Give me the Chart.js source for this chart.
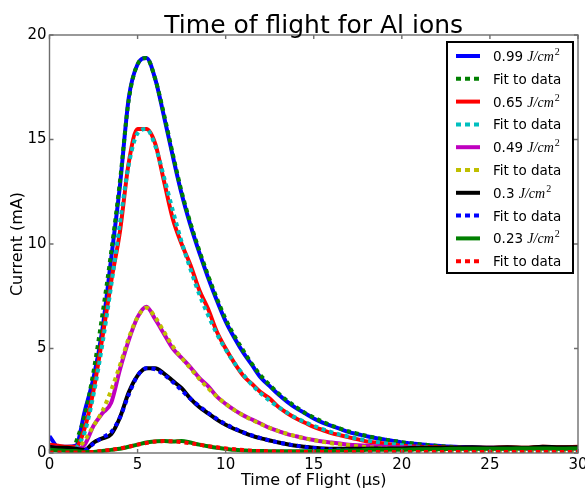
<!DOCTYPE html>
<html>
<head>
<meta charset="utf-8">
<script src="https://cdn.jsdelivr.net/npm/chart.js@4.4.0/dist/chart.umd.min.js"></script>
<style>
  html,body{margin:0;padding:0;background:#fff;}
</style>
</head>
<body>
<canvas id="tof" width="585" height="493"></canvas>
<script>
// ---------- DATA ----------
const TIME = [0,0.5,1,1.5,2,2.5,3,3.5,4,4.5,5,5.5,6,6.5,7,7.5,8,8.5,9,9.5,
  10,10.5,11,11.5,12,12.5,13,13.5,14,14.5,15,15.5,16,16.5,17,17.5,18,18.5,19,19.5,
  20,21,22,23,24,25,26,27,28,29,30];

const FLUENCE = ["0.99","0.65","0.49","0.3","0.23"];

const DATA_099 = [0.8,0.3,0.3,0.35,2.0,3.6,5.9,9.3,12.8,17.0,
  18.6,18.9,17.9,16.1,14.2,12.4,10.9,9.6,8.4,7.3,
  6.3,5.5,4.8,4.2,3.6,3.2,2.8,2.45,2.15,1.9,
  1.65,1.45,1.3,1.15,1.0,0.9,0.8,0.72,0.65,0.58,
  0.5,0.42,0.35,0.3,0.28,0.25,0.25,0.23,0.25,0.25,0.25];
const FIT_099 = [null,null,null,0.5,1.8,3.9,6.6,9.6,13.0,16.9,
  18.6,18.9,17.9,16.2,14.3,12.5,11.0,9.7,8.5,7.4,
  6.4,5.6,4.9,4.25,3.7,3.25,2.85,2.5,2.2,1.92,
  1.7,1.5,1.32,1.17,1.03,0.92,0.82,0.73,0.65,0.58,
  0.52,0.42,0.34,0.28,0.23,0.19,0.16,0.13,0.11,0.1,0.08];

const DATA_065 = [0.4,0.35,0.3,0.3,1.2,3.0,5.5,8.2,10.6,13.9,
  15.5,15.5,14.8,13.0,11.2,10.0,9.0,7.8,6.9,5.8,
  5.0,4.3,3.7,3.3,2.9,2.6,2.2,1.9,1.65,1.45,
  1.25,1.1,0.95,0.85,0.75,0.65,0.55,0.5,0.45,0.4,
  0.35,0.3,0.28,0.25,0.25,0.25,0.28,0.25,0.3,0.28,0.3];
const FIT_065 = [null,null,null,0.2,1.0,2.8,5.2,8.0,11.0,13.8,
  15.3,15.5,14.7,13.2,11.6,10.1,8.8,7.6,6.6,5.7,
  4.95,4.3,3.75,3.25,2.85,2.5,2.2,1.92,1.68,1.48,
  1.3,1.14,1.0,0.88,0.78,0.68,0.6,0.53,0.47,0.42,
  0.37,0.29,0.23,0.18,0.14,0.11,0.09,0.07,0.06,0.05,0.04];

const DATA_049 = [0.3,0.25,0.2,0.2,0.4,1.3,1.9,2.4,4.0,5.4,
  6.5,7.0,6.4,5.7,5.0,4.55,4.1,3.6,3.2,2.7,
  2.35,2.05,1.8,1.6,1.4,1.2,1.05,0.9,0.8,0.7,
  0.62,0.55,0.5,0.45,0.4,0.37,0.35,0.32,0.3,0.28,
  0.27,0.25,0.23,0.22,0.22,0.22,0.22,0.22,0.22,0.22,0.22];
const FIT_049 = [null,null,null,0.1,0.6,1.3,2.0,3.0,4.2,5.5,
  6.5,6.95,6.5,5.8,5.1,4.55,4.05,3.55,3.1,2.7,
  2.35,2.05,1.8,1.58,1.38,1.2,1.05,0.92,0.8,0.7,
  0.62,0.54,0.47,0.42,0.37,0.32,0.28,0.25,0.22,0.2,
  0.18,0.14,0.11,0.09,0.07,0.06,0.05,0.04,0.035,0.03,0.025];

const DATA_030 = [0.3,0.25,0.25,0.2,0.15,0.5,0.7,0.9,1.7,2.9,
  3.7,4.05,4.05,3.8,3.45,3.1,2.6,2.2,1.9,1.6,
  1.35,1.15,0.98,0.82,0.7,0.6,0.5,0.42,0.35,0.3,
  0.25,0.22,0.2,0.2,0.2,0.2,0.2,0.22,0.2,0.22,
  0.22,0.25,0.25,0.25,0.28,0.25,0.28,0.25,0.3,0.28,0.28];
const FIT_030 = [null,null,null,null,0.1,0.45,0.75,1.0,1.7,2.8,
  3.7,4.05,4.0,3.75,3.4,3.0,2.6,2.25,1.92,1.63,
  1.38,1.17,0.99,0.84,0.71,0.6,0.5,0.42,0.35,0.29,
  0.24,0.2,0.17,0.14,0.12,0.1,0.08,0.07,0.06,0.05,
  0.04,0.03,0.03,0.02,0.02,0.02,0.01,0.01,0.01,0.01,0.01];

const DATA_023 = [0.15,0.12,0.1,0.1,0.05,0.05,0.1,0.15,0.2,0.3,
  0.4,0.5,0.55,0.58,0.55,0.58,0.5,0.4,0.32,0.25,
  0.2,0.15,0.12,0.1,0.1,0.08,0.08,0.08,0.08,0.08,
  0.08,0.1,0.1,0.12,0.12,0.12,0.15,0.15,0.15,0.15,
  0.15,0.18,0.18,0.2,0.2,0.2,0.2,0.22,0.22,0.2,0.22];
const FIT_023 = [0.02,0.02,0.02,0.02,0.02,0.05,0.1,0.15,0.22,0.3,
  0.4,0.48,0.55,0.57,0.56,0.52,0.47,0.4,0.33,0.27,
  0.22,0.18,0.14,0.11,0.09,0.08,0.07,0.06,0.06,0.05,
  0.05,0.05,0.05,0.05,0.05,0.05,0.05,0.05,0.05,0.05,
  0.05,0.05,0.05,0.05,0.05,0.05,0.05,0.05,0.05,0.05,0.05];

const MEASURED = [DATA_099, DATA_065, DATA_049, DATA_030, DATA_023];
const FITTED = [FIT_099, FIT_065, FIT_049, FIT_030, FIT_023];
const DATA_COLORS = ['#0000ff','#ff0000','#bf00bf','#000000','#008000'];
const FIT_COLORS = ['#008000','#00bfbf','#bfbf00','#0000ff','#ff0000'];

// ---------- DATASETS ----------
function toPoints(vals){
  return TIME.map((t,i)=>({ x:t, y:vals[i] }));
}

const datasets = [];
FLUENCE.forEach((f,i)=>{
  datasets.push({ label:f, unit:true, data:toPoints(MEASURED[i]), borderColor:DATA_COLORS[i] });
  datasets.push({ label:'Fit to data', data:toPoints(FITTED[i]), borderColor:FIT_COLORS[i], borderDash:[4,4] });
});
// matplotlib draws later lines on top
datasets.forEach((d,i)=>{ d.order = datasets.length - i; d.clip = 0; d.spanGaps = false; });

// ---------- PLUGINS ----------
const frame = {
  id:'frame',
  afterDatasetsDraw(chart){
    const {ctx, chartArea:a, scales} = chart;
    ctx.save();
    ctx.strokeStyle = '#6e6e6e';
    ctx.lineWidth = 1.4;
    ctx.strokeRect(a.left, a.top, a.right-a.left, a.bottom-a.top);
    ctx.beginPath();
    scales.x.ticks.forEach(t=>{
      const px = scales.x.getPixelForValue(t.value);
      ctx.moveTo(px, a.bottom); ctx.lineTo(px, a.bottom-4);
      ctx.moveTo(px, a.top); ctx.lineTo(px, a.top+4);
    });
    scales.y.ticks.forEach(t=>{
      const py = scales.y.getPixelForValue(t.value);
      ctx.moveTo(a.left, py); ctx.lineTo(a.left+4, py);
      ctx.moveTo(a.right, py); ctx.lineTo(a.right-4, py);
    });
    ctx.stroke();
    ctx.restore();
  }
};

const titleText = {
  id:'titleText',
  afterDraw(chart){
    const {ctx, chartArea:a} = chart;
    ctx.save();
    ctx.fillStyle = '#000';
    ctx.font = '25px "DejaVu Sans"';
    ctx.textAlign = 'center';
    ctx.textBaseline = 'alphabetic';
    ctx.fillText('Time of flight for Al ions', (a.left+a.right)/2, 33);
    ctx.restore();
  }
};

const legendBox = {
  id:'legendBox',
  afterDraw(chart){
    const ctx = chart.ctx;
    const bx = 447, by = 42, bw = 126, bh = 231, row = 22.8, y1 = 56;
    ctx.save();
    ctx.fillStyle = '#fff';
    ctx.fillRect(bx, by, bw, bh);
    ctx.lineWidth = 2;
    ctx.strokeStyle = '#000';
    ctx.strokeRect(bx, by, bw, bh);
    chart.data.datasets.forEach((ds,i)=>{
      const y = y1 + i*row;
      ctx.beginPath();
      ctx.setLineDash(ds.borderDash ? [5,4] : []);
      ctx.lineWidth = 4;
      ctx.lineCap = 'butt';
      ctx.strokeStyle = ds.borderColor;
      ctx.moveTo(456, y); ctx.lineTo(480, y);
      ctx.stroke();
      ctx.setLineDash([]);
      ctx.fillStyle = '#000';
      ctx.textAlign = 'left';
      ctx.textBaseline = 'alphabetic';
      let x = 493;
      ctx.font = '13.5px "DejaVu Sans"';
      if(ds.unit){
        const s = ds.label + ' ';
        ctx.fillText(s, x, y+5);
        x += ctx.measureText(s).width;
        ctx.font = 'italic 14px "Liberation Serif"';
        ctx.fillText('J/cm', x, y+5);
        x += ctx.measureText('J/cm').width + 1;
        ctx.font = '10px "Liberation Serif"';
        ctx.fillText('2', x, y-1);
      } else {
        ctx.fillText(ds.label, x, y+5);
      }
    });
    ctx.restore();
  }
};

// ---------- CHART ----------
const tickFont = { family:'DejaVu Sans', size:15 };
const titleFont = { family:'DejaVu Sans', size:16 };

new Chart(document.getElementById('tof'), {
  type:'line',
  data:{ datasets },
  options:{
    responsive:false,
    animation:false,
    layout:{ padding:{ top:35, right:7, left:0, bottom:0 } },
    plugins:{ legend:{ display:false }, tooltip:{ enabled:false }, title:{ display:false } },
    elements:{ point:{ radius:0 }, line:{ borderWidth:4, cubicInterpolationMode:'monotone', borderCapStyle:'butt' } },
    scales:{
      x:{
        type:'linear', min:0, max:30,
        ticks:{ stepSize:5, autoSkip:false, maxRotation:0, color:'#000', font:tickFont, padding:3 },
        grid:{ display:false, drawTicks:false },
        border:{ display:false },
        title:{ display:true, text:'Time of Flight (μs)', color:'#000', font:titleFont, padding:{ top:0, bottom:3 } },
        afterFit(s){ s.height = 40; s.paddingLeft = 0; s.paddingRight = 0; }
      },
      y:{
        min:0, max:20,
        ticks:{ stepSize:5, color:'#000', font:tickFont, padding:3 },
        grid:{ display:false, drawTicks:false },
        border:{ display:false },
        title:{ display:true, text:'Current (mA)', color:'#000', font:titleFont, padding:{ top:8, bottom:0 } },
        afterFit(s){ s.width = 49.5; s.paddingTop = 0; s.paddingBottom = 0; }
      }
    }
  },
  plugins:[frame, titleText, legendBox]
});
</script>
</body>
</html>
